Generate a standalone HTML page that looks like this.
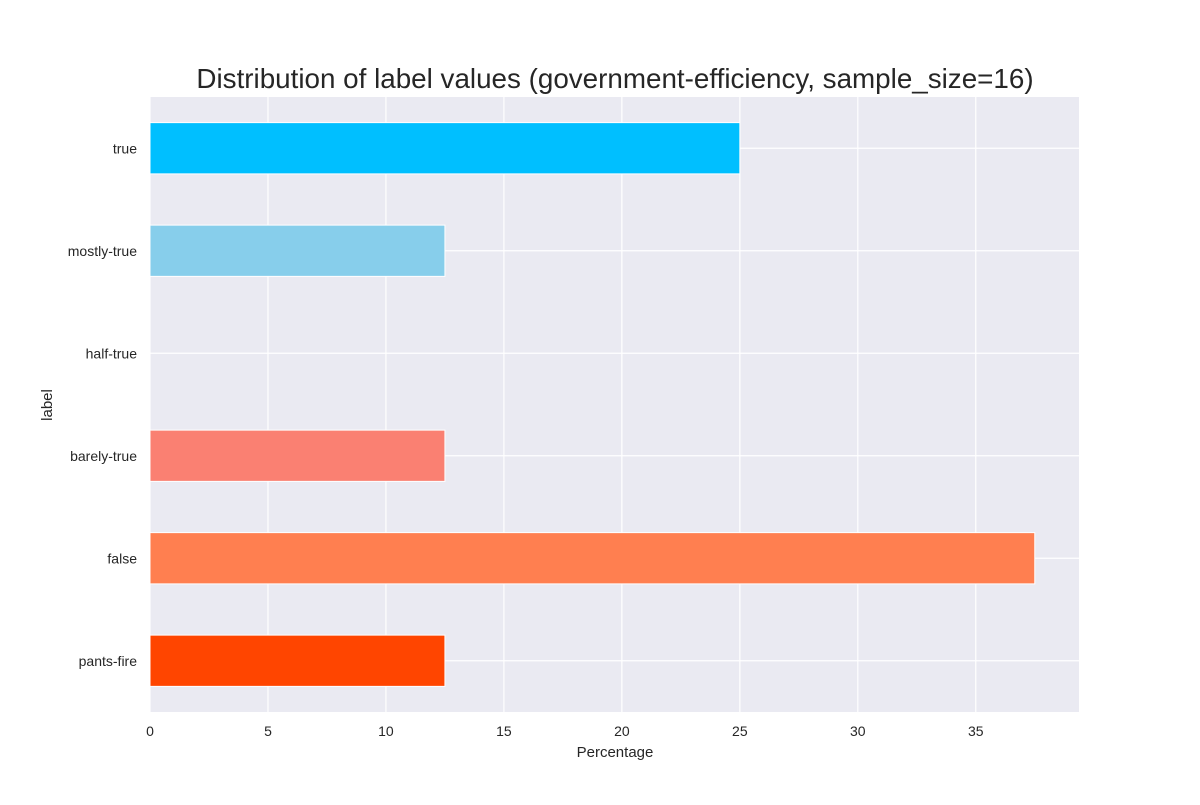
<!DOCTYPE html>
<html><head><meta charset="utf-8"><style>
body{margin:0;background:#fff;}
svg text{font-family:"Liberation Sans",Arial,sans-serif;fill:#262626;}
</style></head><body>
<svg width="1200" height="800">
<rect x="0" y="0" width="1200" height="800" fill="#fff"/>
<text x="615" y="88" font-size="27.8" text-anchor="middle">Distribution of label values (government-efficiency, sample_size=16)</text>
<rect id="plot" x="150" y="97" width="929" height="615" fill="#eaeaf2"/>
<g id="grid"></g><g id="bars"></g><g id="ticks"></g>
<text x="615" y="757" font-size="15" text-anchor="middle">Percentage</text>
<text x="52" y="405" font-size="15" text-anchor="middle" transform="rotate(-90 52 405)">label</text>
</svg>
<script>
const categories=["true","mostly-true","half-true","barely-true","false","pants-fire"];
const values=[25,12.5,0,12.5,37.5,12.5];
const colors=["#00bfff","#87ceeb","#ffffff","#fa8072","#ff7f50","#ff4500"];
const xTicks=[0,5,10,15,20,25,30,35];
const NS="http://www.w3.org/2000/svg";
const x0=150,xw=929,xmax=39.375,y0=97,yh=615;
const xs=v=>x0+v/xmax*xw;
const step=yh/categories.length;
const ys=i=>y0+step*(i+0.5);
function mk(t,a,p){const e=document.createElementNS(NS,t);for(const k in a)e.setAttribute(k,a[k]);p.appendChild(e);return e;}
const grid=document.getElementById('grid'),bars=document.getElementById('bars'),ticks=document.getElementById('ticks');
xTicks.forEach(t=>{
 const l=mk('line',{x1:xs(t),x2:xs(t),y1:y0,y2:y0+yh,stroke:'#fff','stroke-width':1.2},grid);
 
 
 const tx=mk('text',{x:xs(t),y:736,'font-size':14,'text-anchor':'middle'},ticks);tx.textContent=t;
 
 
});
categories.forEach((c,i)=>{
 const l=mk('line',{x1:x0,x2:x0+xw,y1:ys(i),y2:ys(i),stroke:'#fff','stroke-width':1.2},grid);
 
 
 const bh=step*0.5;
 const r=mk('rect',{x:x0,y:ys(i)-bh/2,width:xs(values[i])-x0,height:bh,fill:colors[i],stroke:'#fff','stroke-width':1},bars);
 
 
 const tx=mk('text',{x:137,y:ys(i)+5,'font-size':14,'text-anchor':'end'},ticks);tx.textContent=c;
 
 
});
</script>
</body></html>
